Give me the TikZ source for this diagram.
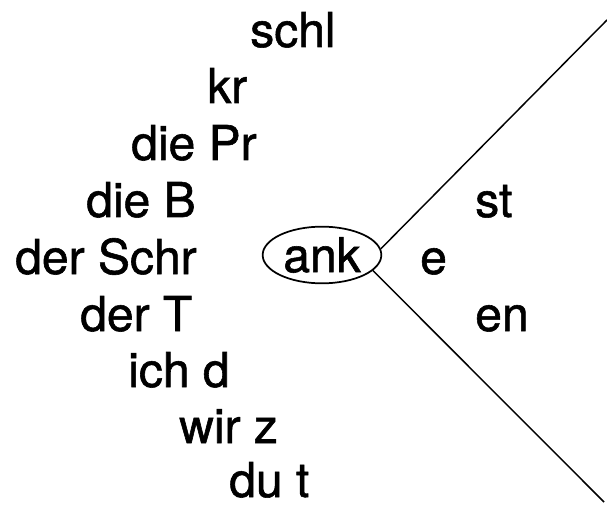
\documentclass[tikz,border=0pt]{standalone}
\usepackage{fontspec}
\setmainfont{TeX Gyre Heros}
\newfontfamily\heavyfont{TeX Gyre Heros}[FakeBold=1.2]
\usetikzlibrary{shapes.geometric}

\tikzset{
  word/.style={anchor=base west,inner sep=0pt,font=\heavyfont\fontsize{36}{40}\selectfont},
  stem/.style={ellipse,draw,line width=1.3pt,inner sep=0pt,minimum width=89pt,minimum height=42.5pt,font=\heavyfont\fontsize{36}{40}\selectfont}
}

\begin{document}
\begin{tikzpicture}[x=0.75pt,y=0.75pt,yscale=-1,xscale=1]
\useasboundingbox (0,0) rectangle (607,506);

% Text Node
\draw (250,47) node [word] (schl) {schl};
% Text Node
\draw (207,103) node [word] (kr) {kr};
% Text Node
\draw (131,160) node [word] (diePr) {die Pr};
% Text Node
\draw (86,217) node [word] (dieB) {die B};
% Text Node
\draw (15,274) node [word] (derSchr) {der Schr};
% Text Node
\draw (80,331) node [word] (derT) {der T};
% Text Node
\draw (128,387) node [word] (ichd) {ich d};
% Text Node
\draw (179,443) node [word] (wirz) {wir z};
% Text Node
\draw (229,497) node [word] (dut) {du t};

%Shape: Ellipse
\draw (322,255) node [stem] (ank) {ank};

% Text Node
\draw (475,217) node [word] (st) {st};
% Text Node
\draw (420,274) node [word] (e) {e};
% Text Node
\draw (475,331) node [word] (en) {en};

%Straight Lines
\coordinate (topend) at (607,20);
\coordinate (botend) at (604,502);
\draw [line width=1.1pt] (ank.6) -- (topend);
\draw [line width=1.1pt] (ank.-17) -- (botend);

\end{tikzpicture}
\end{document}
